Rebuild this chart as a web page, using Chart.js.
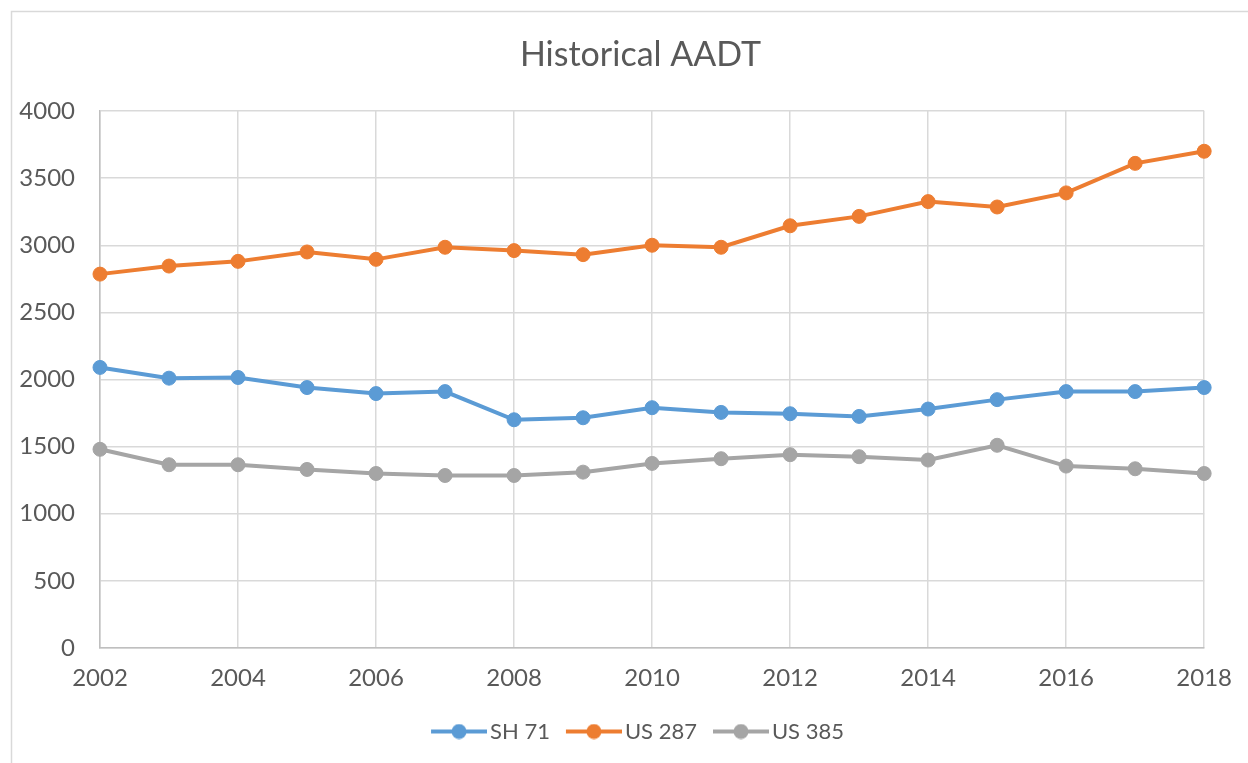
<!DOCTYPE html>
<html>
<head>
<meta charset="utf-8">
<title>Historical AADT</title>
<script src="https://cdn.jsdelivr.net/npm/chart.js@4"></script>
<style>
  html, body { margin: 0; padding: 0; background: #fff; }
  canvas { display: block; }
</style>
</head>
<body>
<canvas id="aadtChart" width="1248" height="763"></canvas>
<script>
// chart data
const years = ['2002', '2003', '2004', '2005', '2006', '2007', '2008', '2009', '2010',
  '2011', '2012', '2013', '2014', '2015', '2016', '2017', '2018'];
const sh71 = [2090, 2010, 2015, 1940, 1895, 1910, 1700, 1715, 1790, 1755, 1745, 1725, 1780, 1850, 1910, 1910, 1940];
const us287 = [2785, 2845, 2880, 2950, 2895, 2985, 2960, 2930, 3000, 2985, 3145, 3215, 3325, 3285, 3390, 3610, 3700];
const us385 = [1480, 1365, 1365, 1330, 1300, 1285, 1285, 1310, 1375, 1410, 1440, 1425, 1400, 1510, 1355, 1335, 1300];
const yMax = 4000;
const yStep = 500;

const textColor = '#595959';
const gridColor = '#d9d9d9';
const axisColor = '#bfbfbf';
const font = 'Lato, sans-serif';
// the original chart was centred on a wider frame than the visible crop
const CENTER_SHIFT = 32;

// legend icon: short line with a dot in the middle
function legendMarker(color) {
  const c = document.createElement('canvas');
  c.width = 58;
  c.height = 16;
  const g = c.getContext('2d');
  g.strokeStyle = color;
  g.lineWidth = 4;
  g.beginPath();
  g.moveTo(2, 8);
  g.lineTo(58, 8);
  g.stroke();
  g.fillStyle = color;
  g.beginPath();
  g.arc(30, 8, 7.5, 0, Math.PI * 2);
  g.fill();
  return c;
}

function series(label, values, color) {
  return {
    label: label,
    data: values,
    borderColor: color,
    backgroundColor: color,
    borderWidth: 4,
    pointRadius: 7,
    pointBorderWidth: 1,
    pointBackgroundColor: color,
    pointBorderColor: color,
    tension: 0,
    clip: false
  };
}

// light frame round the chart
const framePlugin = {
  id: 'frame',
  beforeDraw(chart) {
    const ctx = chart.ctx;
    ctx.save();
    ctx.strokeStyle = gridColor;
    ctx.lineWidth = 1.5;
    ctx.strokeRect(11.5, 11.5, 1400, 900);
    ctx.restore();
  }
};

// move title and legend to the centre of the full frame
const centerShift = {
  id: 'centerShift',
  afterLayout(chart) {
    [chart.titleBlock, chart.legend].forEach(box => {
      box.left += CENTER_SHIFT;
      box.right += CENTER_SHIFT;
    });
  }
};

const ctx = document.getElementById('aadtChart');

new Chart(ctx, {
  type: 'line',
  data: {
    labels: years,
    datasets: [
      series('SH 71', sh71, '#5b9bd5'),
      series('US 287', us287, '#ed7d31'),
      series('US 385', us385, '#a5a5a5')
    ]
  },
  plugins: [framePlugin, centerShift],
  options: {
    responsive: false,
    animation: false,
    layout: {
      padding: { left: 12, right: 43, top: 12, bottom: 10.5 }
    },
    plugins: {
      title: {
        display: true,
        text: 'Historical AADT',
        color: textColor,
        font: { family: font, size: 34, weight: 'normal' },
        padding: { top: 22.6, bottom: 35.6 }
      },
      legend: {
        position: 'bottom',
        labels: {
          usePointStyle: true,
          pointStyleWidth: 42,
          padding: 22,
          color: textColor,
          font: { family: font, size: 22 },
          generateLabels(chart) {
            const items = Chart.defaults.plugins.legend.labels.generateLabels(chart);
            items.forEach(item => {
              item.pointStyle = legendMarker(chart.data.datasets[item.datasetIndex].borderColor);
            });
            return items;
          }
        }
      },
      tooltip: { enabled: false }
    },
    scales: {
      x: {
        afterFit(scale) { scale.height = 50.5; },
        grid: {
          drawTicks: false,
          lineWidth: 1.5,
          color: c => (c.index % 2 ? 'rgba(0,0,0,0)' : gridColor)
        },
        border: { color: axisColor, width: 1.5 },
        ticks: {
          autoSkip: false,
          maxRotation: 0,
          padding: 16,
          color: textColor,
          font: { family: font, size: 24 },
          callback: (v, i) => (i % 2 ? '' : years[i])
        }
      },
      y: {
        min: 0,
        max: yMax,
        afterFit(scale) { scale.width = 88; },
        grid: { drawTicks: false, lineWidth: 1.5, color: gridColor },
        border: { color: axisColor, width: 1.5 },
        ticks: {
          stepSize: yStep,
          padding: 25,
          color: textColor,
          font: { family: font, size: 24 },
          callback: v => String(v)
        }
      }
    }
  }
});
</script>
</body>
</html>
